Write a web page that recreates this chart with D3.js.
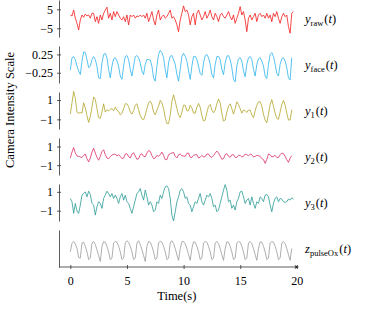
<!DOCTYPE html>
<html>
<head>
<meta charset="utf-8">
<script src="https://cdn.jsdelivr.net/npm/d3@7"></script>
<style>
  body { margin: 0; background: #fff; }
  text { font-family: "Liberation Serif", "DejaVu Serif", serif; }
</style>
</head>
<body>
<script>
// sampling step of the traces (seconds), all series start at t = 0
var tStep = 0.147;
var timeTicks = [0, 5, 10, 15, 20];

// signals
var yRaw = [2.0,1.5,4.6,0.3,-2.4,-5.9,-0.6,2.0,0.8,2.5,
  1.5,2.0,0.3,2.9,2.9,-1.5,1.1,-2.4,2.0,-0.6,
  2.9,4.6,6.1,0.3,2.9,-0.6,3.8,1.1,3.8,2.0,
  0.3,-0.6,1.1,-1.5,2.0,-3.2,2.0,1.1,2.0,0.3,
  1.5,1.1,2.0,1.1,2.0,0.3,2.9,-1.5,1.1,3.8,
  -0.6,-3.2,2.0,4.6,-0.6,1.1,2.0,0.3,1.1,2.9,
  4.6,0.3,1.1,-0.6,-3.2,-6.8,-0.6,2.9,6.8,3.8,
  4.6,2.0,-3.2,1.1,2.9,-3.2,2.9,4.6,2.0,-0.6,
  1.1,3.8,0.3,2.0,4.6,1.1,-0.6,2.9,1.1,-1.5,
  2.0,2.9,1.1,0.3,2.0,3.8,1.1,-0.6,2.0,-2.4,
  0.3,2.9,6.4,2.0,3.8,-0.6,-6.8,0.3,2.0,-0.6,
  1.1,2.9,-1.5,2.0,2.9,1.1,2.0,0.3,2.9,0.3,
  2.0,-1.5,2.9,1.1,3.8,0.3,-2.4,1.1,2.9,1.1,
  2.0,-4.1,-7.6,2.9,3.8];

var yFace = [-0.18,0.16,0.19,0.11,-0.07,-0.20,-0.30,0.07,0.32,0.30,
  0.11,-0.11,-0.07,0.11,0.19,0.11,-0.07,-0.39,-0.41,0.02,
  0.25,0.28,0.16,-0.16,-0.39,-0.07,0.13,0.16,0.07,-0.07,
  -0.34,-0.43,-0.07,0.19,0.22,0.11,-0.16,-0.34,-0.07,0.19,
  0.22,0.16,0.02,-0.20,-0.30,-0.02,0.11,0.11,0.10,-0.07,
  -0.39,-0.48,-0.07,0.25,0.36,0.30,0.16,-0.16,-0.39,0.02,
  0.20,0.22,0.11,-0.02,-0.30,-0.48,-0.16,0.20,0.28,0.20,
  0.07,-0.20,-0.43,-0.07,0.19,0.20,0.11,-0.07,-0.27,-0.32,
  0.02,0.22,0.25,0.16,-0.02,-0.30,-0.39,-0.02,0.19,0.20,
  0.11,-0.16,-0.30,0.02,0.20,0.22,0.11,-0.11,-0.43,-0.50,
  -0.07,0.13,0.16,0.07,-0.20,-0.36,-0.02,0.16,0.19,0.11,
  -0.16,-0.34,-0.02,0.13,0.16,0.07,-0.07,-0.34,-0.41,-0.02,
  0.25,0.30,0.19,-0.02,-0.27,-0.34,-0.02,0.13,0.16,0.07,
  -0.11,-0.39,-0.45,0.16];

var y1 = [-0.46,0.71,1.89,1.18,-0.25,-0.36,-0.29,-0.36,0.71,0.18,
  -0.61,-1.32,-0.71,0.25,1.32,1.07,0.11,-0.82,-0.89,-0.25,
  0.61,-0.25,0,-0.14,0.04,0.11,-0.11,0.25,-0.07,-0.18,
  -0.54,-0.39,0.11,0.61,0.61,0.32,-0.25,-0.46,-0.11,0.46,
  0.61,0,-0.61,-0.96,-1.04,-0.54,0.11,0.71,0.89,0.54,
  -0.25,-0.54,-0.04,0.36,0.96,0.71,0.11,-0.82,-1.43,-1.43,
  -0.54,0.82,1.54,0.89,0.11,-0.54,-0.82,-0.25,0.46,0.46,
  -0.11,-0.11,0.46,0.18,-0.36,-0.36,0.25,0.64,0.25,-0.61,
  -1.18,-1.07,-0.32,0.36,0.54,-0.04,-0.32,-0.04,0.61,1.11,
  0.71,-0.36,-1.18,-1.07,-0.25,0.36,0.61,0.11,-0.46,0.11,
  0.82,0.54,0.11,-0.36,-0.04,-0.11,-0.29,-0.04,-0.04,-0.54,
  -0.82,-0.11,0.46,0.82,0.82,0.36,-0.46,-1.07,-1.36,-0.46,
  0.54,1.04,0.36,-0.36,-0.89,-1.0,-0.25,0.54,0.96,0.46,
  -0.36,-1.07,-1.07,0];

var y2 = [-0.23,0.40,0.89,0.30,-0.02,-0.05,-0.12,-0.19,0.05,0.19,
  -0.30,-0.65,-0.23,0.40,0.82,0.30,-0.16,-0.47,-0.05,0.47,
  0.65,0.12,-0.23,-0.30,-0.09,0.09,0.16,0.19,-0.02,0.12,
  -0.05,-0.30,-0.23,0.19,0.23,-0.09,-0.23,0.19,0.33,-0.02,
  -0.37,-0.30,0.12,0.23,-0.05,-0.09,0.30,0.58,0.47,0.02,
  -0.30,-0.23,0.05,-0.05,0.12,0.40,0.05,-0.40,-0.40,0.12,
  0.23,0.30,0.37,-0.05,-0.23,0.12,0.19,0.02,-0.02,-0.05,
  0.26,0.30,-0.16,-0.16,0.05,0.12,0.12,-0.23,-0.16,0.05,
  -0.12,-0.09,0.19,0.19,-0.09,-0.16,0.02,0.30,0.51,0.30,
  -0.02,-0.37,-0.30,0.12,0.23,-0.05,-0.16,0.12,0.12,-0.16,
  -0.19,0.05,0.05,-0.12,-0.05,0.19,0.12,0.02,0.19,0.12,
  -0.12,-0.05,0.05,0.02,-0.05,-0.30,-0.40,-0.80,-0.37,0.19,
  0.12,-0.12,-0.05,0.05,-0.16,-0.19,0.12,0.30,0.23,-0.05,
  -0.40,-0.70,-0.23,0.02];

var y3 = [0.30,-0.05,-1.28,-0.23,-1.04,-1.28,-0.40,0.65,0.82,1.0,
  0.47,1.07,0.72,-0.23,-0.40,-1.46,-0.58,-0.05,-0.23,-0.75,
  0.30,0.65,1.07,0.82,0.47,0.82,0.30,0.65,0.30,-0.23,
  0.47,0.82,0.12,0.65,-0.05,-0.23,-0.75,-1.28,-0.58,0.12,
  0.82,1.0,1.35,0.65,0.12,1.18,0.47,-0.40,-0.05,-0.40,
  -1.11,-0.93,-0.05,-0.23,0.65,0.30,1.0,1.53,1.63,1.35,
  0.30,-1.46,-2.09,-1.11,-0.05,0.47,1.18,1.35,1.0,0.30,
  0.47,-0.23,-0.40,-1.11,-0.58,-0.05,-0.23,0.30,0.82,-0.05,
  -0.40,0.12,0.65,0.47,0.82,0.30,-0.58,-0.40,-1.11,-0.93,
  -0.23,0.47,1.18,1.77,1.18,-0.05,0.12,-0.75,-0.40,-0.93,
  -0.05,0.30,1.0,1.07,0.47,-0.23,0.12,0.30,-0.40,0.47,
  -0.23,-0.75,-0.05,-0.23,0.47,0.30,-0.05,0.65,0.72,0.47,
  -0.40,-1.11,-0.23,0.30,0.47,-0.05,0.30,0.23,-0.05,-0.12,
  -0.05,0.23,0.12,0.37,0.23];

var zPulseOx = [0.41,0.64,0.69,0.62,0.50,0.26,0.24,0.65,0.67,0.56,
  0.41,0.20,0.24,0.65,0.69,0.61,0.47,0.31,0.15,0.56,
  0.69,0.67,0.56,0.41,0.20,0.24,0.65,0.69,0.67,0.56,
  0.41,0.20,0.24,0.65,0.71,0.67,0.56,0.41,0.20,0.24,
  0.65,0.71,0.61,0.47,0.31,0.15,0.56,0.69,0.67,0.56,
  0.41,0.20,0.24,0.65,0.70,0.67,0.56,0.41,0.20,0.24,
  0.65,0.71,0.63,0.50,0.33,0.18,0.50,0.68,0.69,0.63,
  0.50,0.33,0.18,0.50,0.68,0.67,0.56,0.41,0.20,0.24,
  0.65,0.69,0.67,0.56,0.41,0.20,0.24,0.65,0.69,0.63,
  0.50,0.33,0.18,0.50,0.68,0.67,0.56,0.41,0.20,0.24,
  0.65,0.69,0.67,0.56,0.41,0.20,0.24,0.65,0.69,0.63,
  0.50,0.33,0.18,0.50,0.68,0.67,0.56,0.41,0.20,0.24,
  0.65,0.69,0.67,0.56,0.41,0.20,0.24,0.65,0.69,0.63,
  0.50,0.33,0.18,0.50];

var seriesData = [yRaw, yFace, y1, y2, y3, zPulseOx];
var seriesSym = ["y", "y", "y", "y", "y", "z"];
var seriesSub = ["raw", "face", "1", "2", "3", "pulseOx"];
var seriesTicks = [[-5, 5], [-0.25, 0.25], [-1, 1], [-1, 1], [-1, 1], []];
var seriesColors = ["#f21a1a", "#2cb4ec", "#b3a42a", "#dc2e64", "#2a9b94", "#9b9b9b"];
// value range shown by each panel
var seriesDomains = [[-9.6, 9.9], [-0.53, 0.48], [-2.0, 1.83], [-2.05, 1.91], [-2.09, 1.83], [0, 1]];


/**************************************************/
var svg = d3.select('body').append('svg')
    .attr('width', 366)
    .attr('height', 310);

var panelStep = 46;
var panelH = 37;
var fontSize = 12;

var xScale = d3.scaleLinear()
    .domain([-1, 20.1])
    .range([59, 298]);
var axisX = xScale(-1);
var bottomY = 5 * panelStep + panelH;

//tick text with a real minus sign
function fmtTick(d) {
    return String(d).replace('-', '\u2212');
}

function drawPanel(i) {
    var panelTop = i * panelStep;
    var yScale = d3.scaleLinear()
        .domain(seriesDomains[i])
        .range([panelTop + panelH, panelTop]);

    var axis = d3.axisLeft(yScale)
        .tickValues(seriesTicks[i])
        .tickFormat(fmtTick)
        .tickSizeInner(2)
        .tickSizeOuter(0)
        .tickPadding(4);

    var gAxis = svg.append('g')
        .attr('transform', 'translate(' + axisX + ',0)')
        .call(axis);
    gAxis.selectAll('.tick line').attr('x1', 2).attr('x2', -2);
    gAxis.selectAll('path, line').attr('stroke', '#333').attr('stroke-width', 0.8);
    gAxis.selectAll('text')
        .attr('font-family', '"Liberation Serif", serif')
        .attr('font-size', fontSize)
        .attr('fill', '#000');

    var line = d3.line()
        .x(function(d, j) { return xScale(j * tStep); })
        .y(function(d) { return yScale(d); });

    svg.append('path')
        .datum(seriesData[i])
        .attr('d', line)
        .attr('fill', 'none')
        .attr('stroke', seriesColors[i])
        .attr('stroke-width', 0.8)
        .attr('stroke-linejoin', 'round');

    // label on the right  e.g. y_raw(t)
    var lab = svg.append('text')
        .attr('x', 305)
        .attr('y', panelTop + panelH / 2 + 4.5)
        .attr('font-size', 12.5)
        .attr('fill', '#000');
    lab.append('tspan').attr('font-style', 'italic').text(seriesSym[i]);
    lab.append('tspan').attr('font-size', 8.5).attr('dy', 2.5).text(seriesSub[i]);
    lab.append('tspan').attr('dy', -2.5).attr('dx', 1).text('(');
    lab.append('tspan').attr('font-style', 'italic').text('t');
    lab.append('tspan').text(')');
}

for (var i = 0; i < seriesData.length; i++) {
    drawPanel(i);
}

// time axis with arrow
svg.append('line')
    .attr('x1', axisX).attr('x2', xScale.range()[1])
    .attr('y1', bottomY).attr('y2', bottomY)
    .attr('stroke', '#333').attr('stroke-width', 0.8);
var tip = xScale.range()[1] + 1;
svg.append('path')
    .attr('d', 'M' + tip + ',' + bottomY + 'L' + (tip - 4.5) + ',' + (bottomY - 1.9) +
               'L' + (tip - 3.5) + ',' + bottomY + 'L' + (tip - 4.5) + ',' + (bottomY + 1.9) + 'Z')
    .attr('fill', '#333');

var xAxis = d3.axisBottom(xScale)
    .tickValues(timeTicks)
    .tickFormat(fmtTick)
    .tickSizeInner(2)
    .tickSizeOuter(0)
    .tickPadding(7);
var gx = svg.append('g')
    .attr('transform', 'translate(0,' + bottomY + ')')
    .call(xAxis);
gx.select('.domain').remove();
gx.selectAll('.tick line').attr('y1', -2).attr('y2', 2)
    .attr('stroke', '#333').attr('stroke-width', 0.8);
gx.selectAll('text')
    .attr('font-family', '"Liberation Serif", serif')
    .attr('font-size', fontSize)
    .attr('fill', '#000');

svg.append('text')
    .attr('x', xScale(9.4))
    .attr('y', 300)
    .attr('text-anchor', 'middle')
    .attr('font-size', 12.5)
    .text('Time(s)');

svg.append('text')
    .attr('transform', 'translate(14,110) rotate(-90)')
    .attr('text-anchor', 'middle')
    .attr('font-size', 12.5)
    .text('Camera Intensity Scale');
</script>
</body>
</html>
